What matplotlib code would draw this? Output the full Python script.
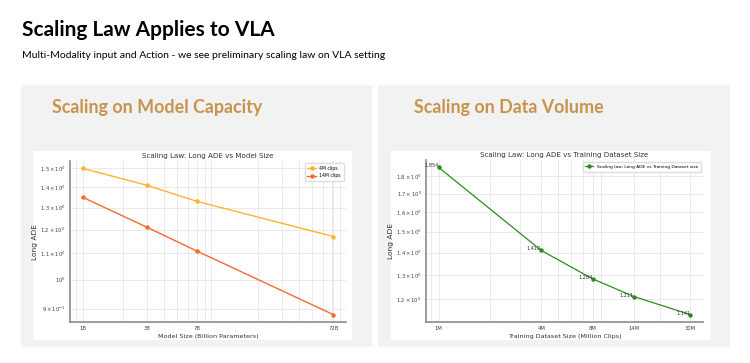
import matplotlib.pyplot as plt
from matplotlib.patches import Rectangle
from matplotlib.ticker import NullFormatter

# data
model_sizes = [1, 3, 7, 72]
model_labels = ['1B', '3B', '7B', '72B']
ade_4m = [1.50, 1.41, 1.33, 1.17]
ade_14m = [1.35, 1.21, 1.11, 0.88]

data_sizes = [1, 4, 8, 14, 30]
data_labels = ['1M', '4M', '8M', '14M', '30M']
ade_data = [1.854, 1.410, 1.284, 1.211, 1.141]

W, H = 750, 363
HEAD_FONT = ['Lato', 'DejaVu Sans']
TAN = '#C8924F'


def box(x0, y0, x1, y1):
    # pixel box (top-left origin) -> figure fraction [l, b, w, h]
    return [x0 / W, 1 - y1 / H, (x1 - x0) / W, (y1 - y0) / H]


def style_axes(ax):
    for s in ['top', 'right']:
        ax.spines[s].set_visible(False)
    for s in ['left', 'bottom']:
        ax.spines[s].set_color('#8c8c8c')
        ax.spines[s].set_linewidth(1.2)
    ax.set_xscale('log')
    ax.set_yscale('log')
    ax.grid(True, which='both', color='#e6e6e6', linewidth=0.6)
    ax.set_axisbelow(True)
    ax.tick_params(which='both', labelsize=3.8, length=0, pad=3, colors='#444444')
    ax.xaxis.set_minor_formatter(NullFormatter())


fig = plt.figure(figsize=(W / 100, H / 100), dpi=100)
fig.patch.set_facecolor('white')

fig.text(22 / W, 1 - 30 / H, 'Scaling Law Applies to VLA', family=HEAD_FONT,
         fontweight='bold', fontsize=15, va='center', ha='left')
fig.text(22 / W, 1 - 56 / H,
         'Multi-Modality input and Action - we see preliminary scaling law on VLA setting',
         family=HEAD_FONT, fontsize=7.5, va='center', ha='left')

# grey panels and white chart cards
for x0, x1 in [(21, 372), (378, 730)]:
    fig.add_artist(Rectangle((x0 / W, 1 - 347 / H), (x1 - x0) / W, 262 / H,
                             transform=fig.transFigure, facecolor='#f2f2f2',
                             edgecolor='none', zorder=0))
for x0, x1 in [(33, 352), (391, 711)]:
    fig.add_artist(Rectangle((x0 / W, 1 - 340 / H), (x1 - x0) / W, 189 / H,
                             transform=fig.transFigure, facecolor='white',
                             edgecolor='none', zorder=0))

fig.text(52 / W, 1 - 107 / H, 'Scaling on Model Capacity', family=HEAD_FONT,
         fontweight='bold', fontsize=12.9, color=TAN, va='center', ha='left')
fig.text(414 / W, 1 - 107 / H, 'Scaling on Data Volume', family=HEAD_FONT,
         fontweight='bold', fontsize=12.9, color=TAN, va='center', ha='left')

# left chart: model size
ax1 = fig.add_axes(box(70, 161, 346, 322))
ax1.patch.set_alpha(0)
style_axes(ax1)
ax1.plot(model_sizes, ade_4m, color='#FDB32F', marker='o', markersize=2.2,
         linewidth=1, label='4M clips')
ax1.plot(model_sizes, ade_14m, color='#F26B2D', marker='o', markersize=2.2,
         linewidth=1, label='14M clips')
ax1.set_xticks(model_sizes)
ax1.set_xticklabels(model_labels)
ax1.set_title('Scaling Law: Long ADE vs Model Size', fontsize=5.1, pad=2, color='#333333')
ax1.set_xlabel('Model Size (Billion Parameters)', fontsize=4.6, labelpad=2, color='#333333')
ax1.set_ylabel('Long ADE', fontsize=5.4, labelpad=1.5, color='#333333')
ax1.legend(loc='upper right', fontsize=3.3, frameon=True, framealpha=1,
           edgecolor='#dddddd', fancybox=True, borderpad=0.6, handlelength=1.8)

# right chart: dataset size
ax2 = fig.add_axes(box(426, 160, 703, 322))
ax2.patch.set_alpha(0)
style_axes(ax2)
ax2.plot(data_sizes, ade_data, color='#2E8B1F', marker='o', markersize=2.2,
         linewidth=0.9, label='Scaling law: Long ADE vs Training Dataset size')
for x, y in zip(data_sizes, ade_data):
    ax2.text(x, y, f'{y:.3f}', fontsize=3.6, ha='right', va='baseline', color='#333333')
ax2.set_xticks(data_sizes)
ax2.set_xticklabels(data_labels)
ax2.set_title('Scaling Law: Long ADE vs Training Dataset Size', fontsize=5.1, pad=2, color='#333333')
ax2.set_xlabel('Training Dataset Size (Million Clips)', fontsize=4.6, labelpad=2, color='#333333')
ax2.set_ylabel('Long ADE', fontsize=5.4, labelpad=1.5, color='#333333')
ax2.legend(loc='upper right', fontsize=3.2, frameon=True, framealpha=1,
           edgecolor='#dddddd', fancybox=True, borderpad=0.6, handlelength=1.8)

plt.savefig('out.png', dpi=100)
plt.close()
